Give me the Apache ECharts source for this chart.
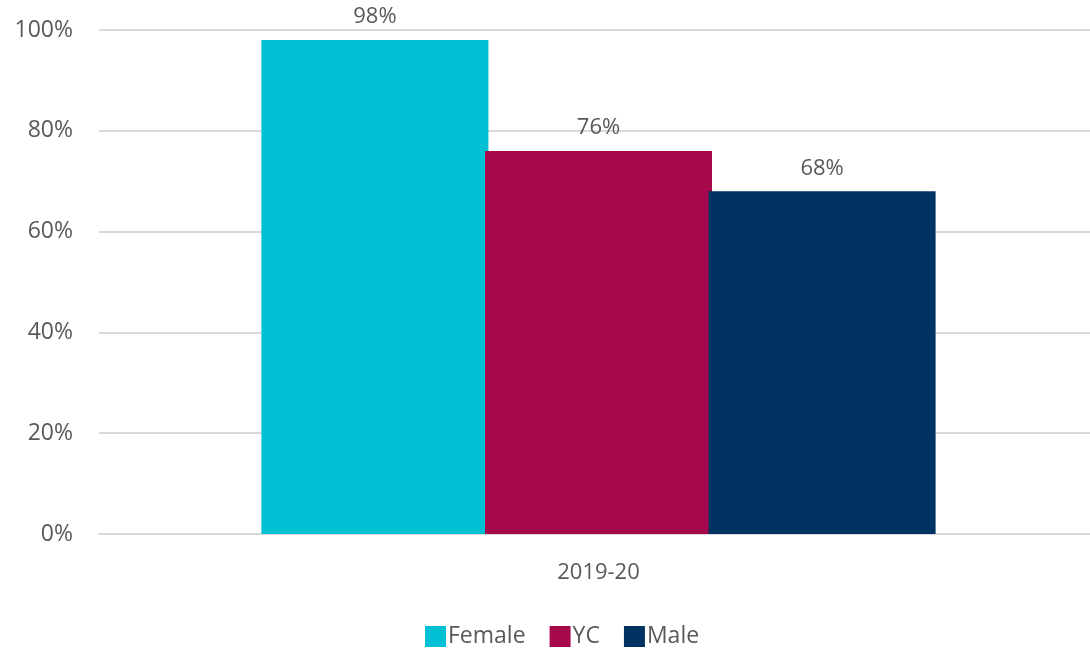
<!DOCTYPE html>
<html>
<head>
<meta charset="utf-8">
<script src="https://cdn.jsdelivr.net/npm/echarts@6/dist/echarts.min.js"></script>
<style>
  html, body { margin: 0; padding: 0; background: #fff; }
  #chart { width: 1090px; height: 649px; }
</style>
</head>
<body>
<div id="chart"></div>
<script>
  const categories = ['2019-20'];
  const seriesNames = ['Female', 'YC', 'Male'];
  const female = [98];
  const yc = [76];
  const male = [68];
  const yTicks = [0, 20, 40, 60, 80, 100];

  const colors = ['#00c0d3', '#a6094b', '#003263'];
  const font = '"Open Sans", sans-serif';

  let myChart = echarts.init(document.getElementById('chart'));

  function bar(name, data) {
    return {
      name: name,
      type: 'bar',
      data: data,
      barWidth: 227,
      barGap: '-1.5%',
      label: {
        show: true,
        position: 'top',
        distance: 12,
        formatter: '{c}%',
        color: '#595959',
        fontFamily: font,
        fontSize: 22
      }
    };
  }

  let option = {
    color: colors,
    animation: false,
    grid: {
      left: 99,
      right: -8,
      top: 30,
      bottom: 115,
      outerBoundsMode: 'none'
    },
    legend: {
      data: seriesNames,
      top: 620,
      left: 420,
      itemWidth: 21,
      itemHeight: 21,
      itemGap: 24,
      icon: 'rect',
      textStyle: { color: '#595959', fontFamily: font, fontSize: 23, padding: [0, 0, 0, -3] }
    },
    xAxis: {
      type: 'category',
      data: categories,
      axisLine: { lineStyle: { color: '#d9d9d9', width: 2 } },
      axisTick: { show: false },
      axisLabel: { color: '#595959', fontFamily: font, fontSize: 22, margin: 28 }
    },
    yAxis: {
      type: 'value',
      min: yTicks[0],
      max: yTicks[yTicks.length - 1],
      interval: 20,
      axisLine: { show: false },
      axisTick: { show: false },
      splitLine: { lineStyle: { color: '#d9d9d9', width: 2 } },
      axisLabel: {
        color: '#595959',
        fontFamily: font,
        fontSize: 23,
        margin: 26,
        formatter: '{value}%'
      }
    },
    series: [
      bar(seriesNames[0], female),
      bar(seriesNames[1], yc),
      bar(seriesNames[2], male)
    ]
  };
  myChart.setOption(option);
</script>
</body>
</html>
